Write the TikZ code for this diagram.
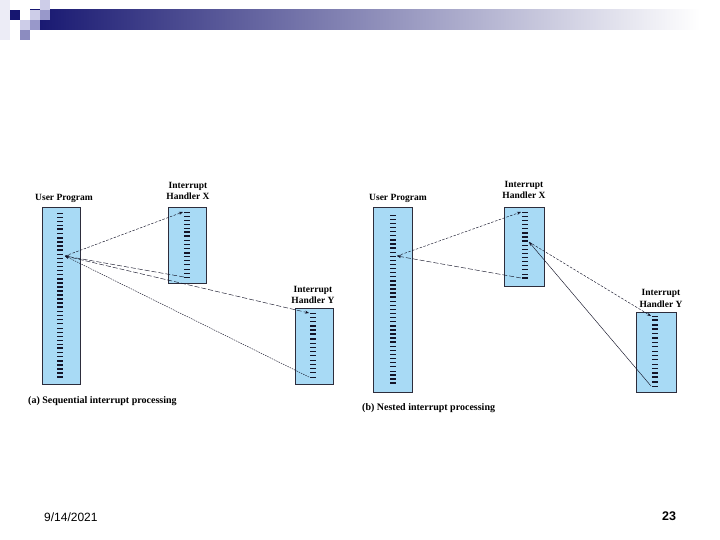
\documentclass[tikz,border=0pt]{standalone}
\usepackage{fontspec}
\setmainfont{Liberation Serif}
\newfontfamily\footfont{Liberation Sans}
\usetikzlibrary{arrows.meta}
\definecolor{boxblue}{RGB}{168,218,245}
\definecolor{boxline}{RGB}{45,45,60}
\definecolor{tickc}{RGB}{20,20,40}
\definecolor{navy}{RGB}{22,22,112}
\definecolor{lavlight}{RGB}{205,205,232}
\definecolor{lavmid}{RGB}{152,152,202}
\definecolor{lavdark}{RGB}{140,140,192}
\definecolor{lavfaint}{RGB}{236,236,246}
\newcommand\tickcol[4]{\foreach \w [count=\i from 0] in {#4}{\draw[line width=\w pt, tickc] ({#1-3},{#2+\i*#3}) -- ++(6,0);}}
\begin{document}
\begin{tikzpicture}[x=1pt,y=-1pt,
  box/.style={fill=boxblue, draw=boxline, line width=0.5pt, inner sep=0pt},
  lab/.style={font=\bfseries\fontsize{9.5}{11.5}\selectfont, inner sep=0pt, align=center},
  captext/.style={font=\bfseries\fontsize{10}{12}\selectfont, inner sep=0pt, anchor=west},
  conn/.style={line width=0.45pt, tickc, -{Stealth[length=4pt,width=3pt]}},
  sdash/.style={dash pattern=on 2.5pt off 1.5pt},
  ldash/.style={dash pattern=on 5pt off 2pt},
  fdot/.style={dash pattern=on 1.5pt off 1pt}]
\useasboundingbox (0,0) rectangle (720,540);
\fill[white] (0,0) rectangle (720,540);
% header decoration
\fill[lavfaint] (0,0) rectangle (10,40);
\shade[left color=navy, right color=white] (30,10) rectangle (700,30);
\fill[navy] (10,10) rectangle (20,20);
\fill[lavlight] (30,10) rectangle (40,20);
\fill[lavmid] (40,10) rectangle (50,20);
\fill[lavlight] (40,0) rectangle (50,10);
\fill[lavlight] (20,20) rectangle (30,30);
\fill[lavmid] (30,20) rectangle (40,30);
\fill[lavdark] (20,30) rectangle (30,40);
% ---------- (a) ----------
\node[box, minimum width=38pt, minimum height=177pt] (ua) at (61,295.5) {};
\node[box, minimum width=38pt, minimum height=76pt] (xa) at (187,245) {};
\node[box, minimum width=38pt, minimum height=76pt] (ya) at (314,346) {};
\node[lab] (tua) at (64,198) {User Program};
\node[lab] (txa) at (188,191) {Interrupt\\Handler X};
\node[lab] (tya) at (313,295) {Interrupt\\Handler Y};
\tickcol{60}{213}{4.1}{.6,.6,.6,.6,1.8,1.8,1.8,1.8,1.8,1.8,.6,.6,.6,.6,.6,1.8,1.8,1.8,1.8,1.8,1.8,1.8,1.8,1.8,.6,.6,.6,.6,.6,.6,.6,.6,.6,1.8,1.8,1.8,1.8,1.8,1.8,1.8,1.8}
\tickcol{187}{212}{4.06}{.6,.6,.6,.6,.6,1.8,1.8,1.8,1.8,1.8,1.8,.6,.6,.6,.6,.6,.6}
\tickcol{313}{313}{4.27}{.6,.6,1.8,1.8,1.8,1.8,1.8,.6,.6,.6,.6,.6,.6,.6,.6,.6}
\coordinate (Pa) at (65,256);
\coordinate (Xat) at (183,212);
\coordinate (Xab) at (184,277);
\coordinate (Yat) at (309,313);
\coordinate (Yab) at (309,377);
\draw[conn,sdash] (Pa) -- (Xat);
\draw[conn,ldash] (Xab) -- (Pa);
\draw[conn,ldash] (Pa) -- (Yat);
\draw[conn,fdot] (Yab) -- (Pa);
\node[captext] (capa) at (28,401) {(a) Sequential interrupt processing};
% ---------- (b) ----------
\node[box, minimum width=39pt, minimum height=185pt] (ub) at (392.5,299.5) {};
\node[box, minimum width=40pt, minimum height=79pt] (xb) at (524,246.5) {};
\node[box, minimum width=40pt, minimum height=80pt] (yb) at (656,352) {};
\node[lab] (tub) at (398,198) {User Program};
\node[lab] (txb) at (524,190) {Interrupt\\Handler X};
\node[lab] (tyb) at (661,298.5) {Interrupt\\Handler Y};
\tickcol{393}{215}{4.1}{.6,.6,.6,.6,1.8,1.8,1.8,1.8,1.8,.6,.6,.6,.6,.6,.6,.6,1.8,1.8,1.8,1.8,1.8,.6,.6,.6,.6,.6,.6,1.8,1.8,1.8,1.8,1.8,.6,.6,.6,.6,.6,.6,.6,1.8,1.8,1.8}
\tickcol{525}{212}{4.125}{.6,.6,.6,.6,1.8,1.8,1.8,1.8,.6,.6,.6,.6,.6,.6,.6,.6,1.8}
\tickcol{655}{316}{4.375}{.6,1.8,1.8,1.8,1.8,1.8,.6,.6,.6,.6,.6,.6,1.8,1.8,1.8,1.8,.6}
\coordinate (Pb) at (397,256);
\coordinate (Xbt) at (521,212);
\coordinate (Xbb) at (521,278);
\coordinate (Qb) at (529,242);
\coordinate (Ybt) at (651,316);
\coordinate (Ybb) at (651,386);
\draw[conn,sdash] (Pb) -- (Xbt);
\draw[conn,ldash] (Xbb) -- (Pb);
\draw[conn,sdash] (Qb) -- (Ybt);
\draw[conn] (Ybb) -- (Qb);
\node[captext] (capb) at (362,408) {(b) Nested interrupt processing};
% footer
\node[font=\footfont\fontsize{12}{14}\selectfont, inner sep=0pt, anchor=west] (date) at (44,517) {9/14/2021};
\node[font=\footfont\bfseries\fontsize{12.5}{14}\selectfont, inner sep=0pt] (pg) at (669,516) {23};
\end{tikzpicture}
\end{document}
